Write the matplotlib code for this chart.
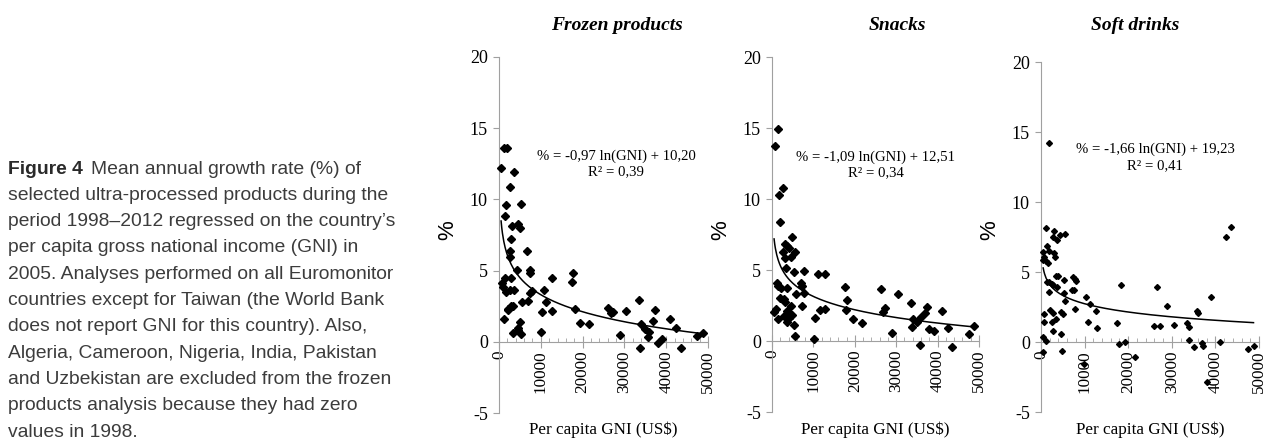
import matplotlib
matplotlib.use("Agg")
import matplotlib.pyplot as plt
import numpy as np
from matplotlib.ticker import MultipleLocator

plt.rcParams["axes.unicode_minus"] = False

# data (GNI in US$, growth in %)
frozen_gni = [1200, 1900, 480, 3670, 2550, 1590, 5180, 1430, 3030, 4540, 5100, 2950,
              2550, 2710, 6770, 4380, 7490, 7490, 1430, 2870, 800, 960, 1750, 2710,
              3590, 7800, 7330, 12670, 10840, 17690, 17530, 5420, 7010, 11160, 2230,
              2870, 3270, 2070, 10200, 12670, 18170, 1120, 19290, 21520, 5020, 3270,
              4460, 4620, 5260, 9960, 26000, 26700, 27270, 30380, 33490, 28870, 33890,
              35010, 35970, 35730, 33730, 37320, 36920, 39000, 38130, 40900, 42400,
              43450, 47440, 48720]
frozen_pct = [13.6, 13.6, 12.2, 11.9, 10.9, 9.6, 9.7, 8.8, 8.1, 8.3, 8.0, 7.25,
              6.4, 5.96, 6.4, 5.05, 5.07, 4.8, 4.5, 4.5, 4.1, 3.85, 3.5, 3.66,
              3.66, 3.6, 3.4, 4.46, 3.66, 4.8, 4.2, 2.8, 2.9, 2.77, 2.25,
              2.5, 2.5, 2.3, 2.07, 2.18, 2.3, 1.6, 1.3, 1.24, 1.36, 0.6,
              0.96, 0.8, 0.52, 0.68, 2.4, 2.02, 2.11, 2.16, 2.93, 0.45, 1.22,
              0.89, 0.66, 0.33, -0.42, 2.23, 1.46, 0.19, -0.05, 1.57, 0.94,
              -0.47, 0.42, 0.59]

snacks_gni = [1450, 640, 2660, 1690, 1850, 4830, 3060, 3620, 4110, 2740, 5470, 4670,
              3220, 3300, 5230, 7730, 11110, 12880, 1290, 1530, 6920, 7330, 2250, 3700,
              17550, 1850, 2820, 3140, 5720, 7730, 4670, 18190, 400, 970, 7250, 2900,
              3620, 1450, 4030, 4830, 11510, 12880, 17790, 10470, 19480, 21740, 3700,
              5310, 5470, 10220, 26250, 30510, 26730, 27370, 28980, 33490, 33970, 35100,
              33730, 35900, 37030, 37350, 38000, 39130, 35740, 41060, 42500, 43550,
              47500, 48780]
snacks_pct = [14.93, 13.7, 10.75, 10.28, 8.36, 7.35, 6.83, 6.69, 6.53, 6.29, 6.27, 5.94,
              5.82, 5.12, 4.88, 4.95, 4.74, 4.72, 4.06, 3.9, 4.06, 3.9, 3.71, 3.76,
              3.83, 3.0, 2.96, 2.77, 3.31, 3.4, 2.46, 2.89, 2.07, 2.23, 2.46, 1.78,
              2.11, 1.55, 1.6, 1.83, 2.18, 2.25, 2.18, 1.64, 1.55, 1.27, 1.36,
              1.13, 0.33, 0.14, 3.66, 3.31, 2.04, 2.3, 0.56, 2.68, 1.55, 1.36,
              0.96, 1.69, 1.97, 2.39, 0.87, 0.73, -0.26, 2.09, 0.89, -0.4,
              0.49, 1.08]

soft_gni = [1750, 1140, 2900, 4350, 5420, 2670, 3740, 1370, 1750, 530, 760, 530,
            1140, 1530, 3050, 3280, 3430, 3820, 5340, 7250, 7710, 8010, 1300, 1910,
            2520, 2820, 3660, 7100, 7480, 1910, 5190, 10300, 18240, 5570, 11220, 7710,
            2060, 2670, 4500, 4960, 12590, 690, 3430, 760, 2440, 10830, 2820, 12740,
            17470, 4580, 530, 1140, 17780, 19300, 380, 4730, 9840, 21580, 26610,
            28900, 26010, 27300, 30430, 33480, 33860, 33940, 35080, 35770, 36000,
            36990, 37220, 38060, 39050, 40950, 42480, 43470, 47520, 48740]
soft_pct = [14.19, 8.12, 7.95, 7.64, 7.71, 7.48, 7.29, 6.88, 6.52, 6.45, 6.1, 5.86,
            5.79, 5.62, 6.33, 6.1, 4.71, 4.74, 4.43, 4.67, 4.5, 4.38, 4.31, 4.31,
            4.14, 4.07, 3.95, 3.71, 3.71, 3.55, 3.48, 3.24, 4.05, 2.95, 2.71, 2.33,
            2.29, 2.05, 2.17, 1.98, 2.21, 1.98, 1.62, 1.45, 1.4, 1.43, 0.81, 1.0,
            1.33, 0.57, 0.33, 0.07, -0.14, -0.02, -0.71, -0.67, -1.57, -1.05, 3.9,
            2.6, 1.14, 1.12, 1.24, 1.33, 1.05, 0.14, -0.38, 2.24, 2.1,
            -0.05, -0.26, -2.86, 3.19, 0.02, 7.48, 8.24, -0.48, -0.26]

titles = ["Frozen products", "Snacks", "Soft drinks"]
equations = ["% = -0,97 ln(GNI) + 10,20", "% = -1,09 ln(GNI) + 12,51", "% = -1,66 ln(GNI) + 19,23"]
r2_labels = ["R² = 0,39", "R² = 0,34", "R² = 0,41"]

caption = ["Mean annual growth rate (%) of",
           "selected ultra-processed products during the",
           "period 1998–2012 regressed on the country’s",
           "per capita gross national income (GNI) in",
           "2005. Analyses performed on all Euromonitor",
           "countries except for Taiwan (the World Bank",
           "does not report GNI for this country). Also,",
           "Algeria, Cameroon, Nigeria, India, Pakistan",
           "and Uzbekistan are excluded from the frozen",
           "products analysis because they had zero",
           "values in 1998."]

W, H = 1264, 440
fig = plt.figure(figsize=(W / 100, H / 100), dpi=100)
serif = "Liberation Serif"

# axes boxes in pixels: left, right, top, bottom
boxes = [(499, 708, 57, 413), (772, 979, 57, 412), (1041, 1259, 62, 412)]
title_pos = [(617, 25), (897, 25), (1135, 25)]
eq_pos = [(616, 156, 172), (876, 157, 173), (1155, 149, 166)]
marker_sizes = [3.6, 3.6, 3]

series = [(frozen_gni, frozen_pct), (snacks_gni, snacks_pct), (soft_gni, soft_pct)]

for i, (gx, gy) in enumerate(series):
    l, r, t, b = boxes[i]
    ax = fig.add_axes([l / W, (H - b) / H, (r - l) / W, (b - t) / H])
    gx = np.array(gx, dtype=float)
    gy = np.array(gy, dtype=float)
    ax.plot(gx, gy, linestyle="none", marker="D", markersize=marker_sizes[i],
            color="black", clip_on=False, zorder=3)

    # excel style log trendline
    k, c = np.polyfit(np.log(gx), gy, 1)
    xs = np.linspace(500, gx.max(), 300)
    ax.plot(xs, k * np.log(xs) + c, color="black", lw=1.1, zorder=2)

    ax.set_xlim(0, 50000)
    ax.set_ylim(-5, 20)
    ax.spines["top"].set_visible(False)
    ax.spines["right"].set_visible(False)
    ax.spines["bottom"].set_position(("data", 0))
    ax.spines["bottom"].set_color("#a0a0a0")
    ax.spines["left"].set_color("#a0a0a0")
    ax.xaxis.set_minor_locator(MultipleLocator(2000))
    ax.yaxis.set_major_locator(MultipleLocator(5))
    ax.tick_params(axis="x", which="major", direction="inout", length=8, color="#a0a0a0", pad=2)
    ax.tick_params(axis="x", which="minor", direction="in", length=3, color="#a0a0a0")
    ax.tick_params(axis="y", direction="out", length=4, color="#a0a0a0", labelsize=13, pad=4)
    for lab in ax.get_yticklabels():
        lab.set_fontfamily(serif)
    ax.set_xticks([0, 10000, 20000, 30000, 40000, 50000])
    ax.set_xticklabels(["0", "10000", "20000", "30000", "40000", "50000"],
                       rotation=90, fontfamily=serif, fontsize=12.3, va="top")
    ax.patch.set_visible(False)

    fig.text(((l + r) / 2) / W, 1 - 430 / H, "Per capita GNI (US$)", fontfamily=serif,
             fontsize=12.3, ha="center", va="center")
    fig.text((l - 51) / W, 1 - 230 / H, "%", fontfamily="Liberation Sans", fontsize=16,
             rotation=90, ha="center", va="center")
    tx, ty = title_pos[i]
    fig.text(tx / W, 1 - ty / H, titles[i], fontfamily=serif, fontsize=14,
             fontweight="bold", fontstyle="italic", ha="center", va="center")
    ex, ey, ry = eq_pos[i]
    fig.text(ex / W, 1 - ey / H, equations[i], fontfamily=serif, fontsize=10.6,
             ha="center", va="center")
    fig.text(ex / W, 1 - ry / H, r2_labels[i], fontfamily=serif, fontsize=10.6,
             ha="center", va="center")

# caption on the left
fig.text(8 / W, 1 - 169 / H, "Figure 4", fontfamily="Liberation Sans", fontsize=13.9,
         fontweight="bold", color="#2a2a2a", ha="left", va="center")
for j, line in enumerate(caption):
    x0 = 91 if j == 0 else 8
    fig.text(x0 / W, 1 - (169 + j * 26.3) / H, line, fontfamily="Liberation Sans",
             fontsize=13.9, color="#3c3c3c", ha="left", va="center")

fig.savefig("out.png", dpi=100)
